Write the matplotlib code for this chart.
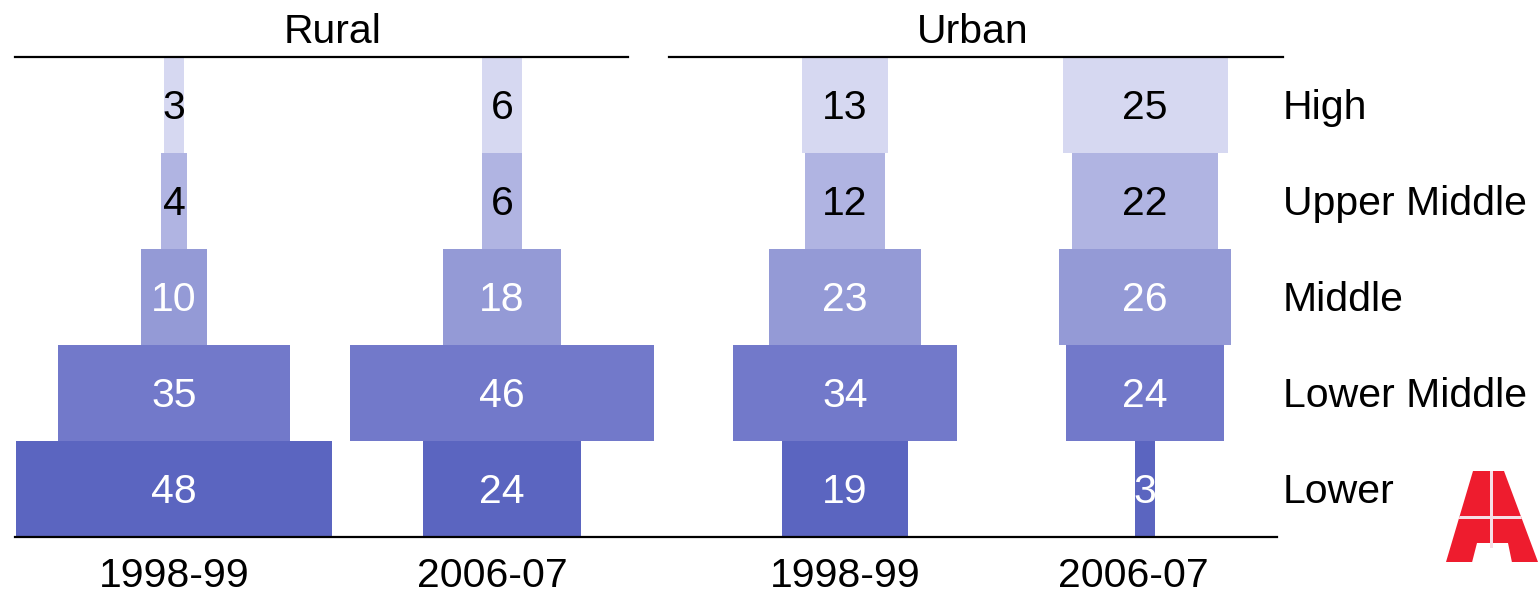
import matplotlib.pyplot as plt
from matplotlib.patches import Polygon, Rectangle

plt.rcParams['font.family'] = ['Liberation Sans', 'DejaVu Sans']

# data (share of households, %), bottom row first
classes = ['Lower', 'Lower Middle', 'Middle', 'Upper Middle', 'High']
periods = ['1998-99', '2006-07', '1998-99', '2006-07']
areas = ['Rural', 'Urban']
rural_1998 = [48, 35, 10, 4, 3]
rural_2006 = [24, 46, 18, 6, 6]
urban_1998 = [19, 34, 23, 12, 13]
urban_2006 = [3, 24, 26, 22, 25]
series = [rural_1998, rural_2006, urban_1998, urban_2006]

W, H = 1539, 592
PX = 6.6                       # pixels per percentage point
centers_px = [174, 502, 845, 1145]
row_colors = ['#5b65c0', '#7279ca', '#949ad6', '#b0b4e2', '#d6d8f1']
text_colors = ['white', 'white', 'white', 'black', 'black']
FS = 29.5

fig = plt.figure(figsize=(W / 100, H / 100), dpi=100)
top_px, bot_px = 57, 537
ax = fig.add_axes([0, (H - bot_px) / H, 1, (bot_px - top_px) / H])
ax.set_xlim(0, W / PX)
ax.set_ylim(-0.5, len(classes) - 0.5)
ax.axis('off')

for vals, cpx in zip(series, centers_px):
    c = cpx / PX
    for i, v in enumerate(vals):
        ax.barh(i, v, left=c - v / 2, height=1.0, color=row_colors[i],
                edgecolor='none')
        ax.text(c, i - 0.03, str(v), ha='center', va='center', fontsize=FS,
                color=text_colors[i])

# rules
ax.plot([15 / PX, 628 / PX], [4.5, 4.5], color='black', lw=1.6, clip_on=False)
ax.plot([669 / PX, 1283 / PX], [4.5, 4.5], color='black', lw=1.6, clip_on=False)
ax.plot([15 / PX, 1277 / PX], [-0.5, -0.5], color='black', lw=1.6, clip_on=False)

# row labels
for i, name in enumerate(classes):
    ax.text(1283 / PX, i - 0.03, name, ha='left', va='center', fontsize=FS)

# headers and period labels
fig.text(333 / W, 1 - 32 / H, areas[0], ha='center', va='center', fontsize=FS)
fig.text(973 / W, 1 - 32 / H, areas[1], ha='center', va='center', fontsize=FS)
for p, cpx in zip(periods, [174, 492, 845, 1133]):
    fig.text(cpx / W, 1 - 576 / H, p, ha='center', va='center', fontsize=FS)

# logo
lax = fig.add_axes([0, 0, 1, 1], facecolor='none')
lax.set_xlim(0, W)
lax.set_ylim(H, 0)
lax.axis('off')
red = '#ee1c2e'
body = Polygon([(1446, 562), (1473, 471), (1504, 471), (1538, 562)],
               closed=True, color=red, lw=0)
lax.add_patch(body)
lax.add_patch(Polygon([(1472, 562.5), (1477, 543), (1508, 543), (1512, 562.5)],
                      closed=True, color='white', lw=0))
for r in [Rectangle((1440, 516), 100, 2.5), Rectangle((1490, 468), 2.5, 80)]:
    r.set_color('#f6dfe6')
    r.set_linewidth(0)
    lax.add_patch(r)
    r.set_clip_path(body)

fig.savefig('out.png', dpi=100)
